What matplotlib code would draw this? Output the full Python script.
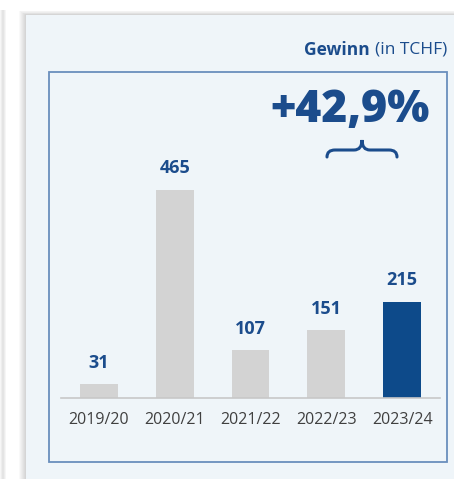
from matplotlib import pyplot as plt
from matplotlib.patches import Rectangle, PathPatch
from matplotlib.path import Path

seasons = ['2019/20', '2020/21', '2021/22', '2022/23', '2023/24']
profit = [31, 465, 107, 151, 215]
growth_label = '+42,9%'

W, H = 454, 479
BLUE = '#1b4c8c'
BAR_GREY = '#d3d3d3'
BAR_BLUE = '#0d4a8a'


def fx(px):
    return px / W


def fy(py):
    return 1 - py / H


plt.rcParams['font.family'] = ['Open Sans', 'DejaVu Sans']
fig = plt.figure(figsize=(W / 100, H / 100), dpi=100)
fig.patch.set_facecolor('white')

# blurred edge of the neighbouring panel at the far left
for k in range(4):
    fig.add_artist(Rectangle((fx(k), 0), fx(6 - 2 * k), fy(10), transform=fig.transFigure,
                             facecolor='black', alpha=0.035, edgecolor='none', zorder=0))

# card shadow
for k in range(7, 0, -1):
    fig.add_artist(Rectangle((fx(26 - k), 0), 1, fy(15 - k * 0.6), transform=fig.transFigure,
                             facecolor='black', alpha=0.025, edgecolor='none', zorder=0))
# card
fig.add_artist(Rectangle((fx(26), 0), 1, fy(15), transform=fig.transFigure,
                         facecolor='#eff5f9', edgecolor='none', zorder=1))
# inner frame
fig.add_artist(Rectangle((fx(49), fy(462)), fx(447) - fx(49), fy(72) - fy(462),
                         transform=fig.transFigure, facecolor='none',
                         edgecolor='#6a8fbd', linewidth=1.3, zorder=2))

# title
t1 = fig.text(fx(447), fy(50), '(in TCHF)', ha='right', va='center',
              fontsize=12.5, color=BLUE, zorder=3)
fig.add_artist(plt.Annotation('Gewinn ', xy=(0, 0.5), xycoords=t1,
                              ha='right', va='center', fontsize=12.5,
                              fontweight='bold', color=BLUE, zorder=3))

# growth figure and brace
fig.text(fx(350), fy(122), growth_label, ha='center', va='baseline',
         fontsize=32, fontweight=800, color=BLUE, zorder=3)
pts = [(327, 157), (327, 150), (335, 150), (354, 150), (362, 150), (362, 140),
       (362, 150), (370, 150), (389, 150), (397, 150), (397, 157)]
codes = [Path.MOVETO, Path.CURVE3, Path.CURVE3, Path.LINETO, Path.CURVE3, Path.CURVE3,
         Path.CURVE3, Path.CURVE3, Path.LINETO, Path.CURVE3, Path.CURVE3]
brace = Path([(fx(x), fy(y)) for x, y in pts], codes)
fig.add_artist(PathPatch(brace, transform=fig.transFigure, facecolor='none',
                         edgecolor=BLUE, linewidth=2.2, capstyle='round', zorder=3))

# bars
ax = fig.add_axes([fx(61), fy(398), fx(440) - fx(61), 224 / H])
ax.set_facecolor('none')
ax.set_zorder(4)
colors = [BAR_GREY] * (len(profit) - 1) + [BAR_BLUE]
ax.bar(range(len(profit)), profit, width=0.5, color=colors)
for i, v in enumerate(profit):
    ax.annotate(str(v), (i, v), xytext=(0, 15.5), textcoords='offset points',
                ha='center', va='center', fontsize=13, fontweight='bold', color=BLUE)
ax.set_xlim(-0.5, 4.5)
ax.set_ylim(0, 500)
ax.set_xticks(range(len(seasons)))
ax.set_xticklabels(seasons)
ax.tick_params(axis='x', length=0, pad=10, labelsize=11.5, labelcolor='#404040')
ax.set_yticks([])
for s in ['top', 'left', 'right']:
    ax.spines[s].set_visible(False)
ax.spines['bottom'].set_color('#c8c8c8')
ax.spines['bottom'].set_linewidth(1.2)

plt.savefig('out.png', dpi=100)
